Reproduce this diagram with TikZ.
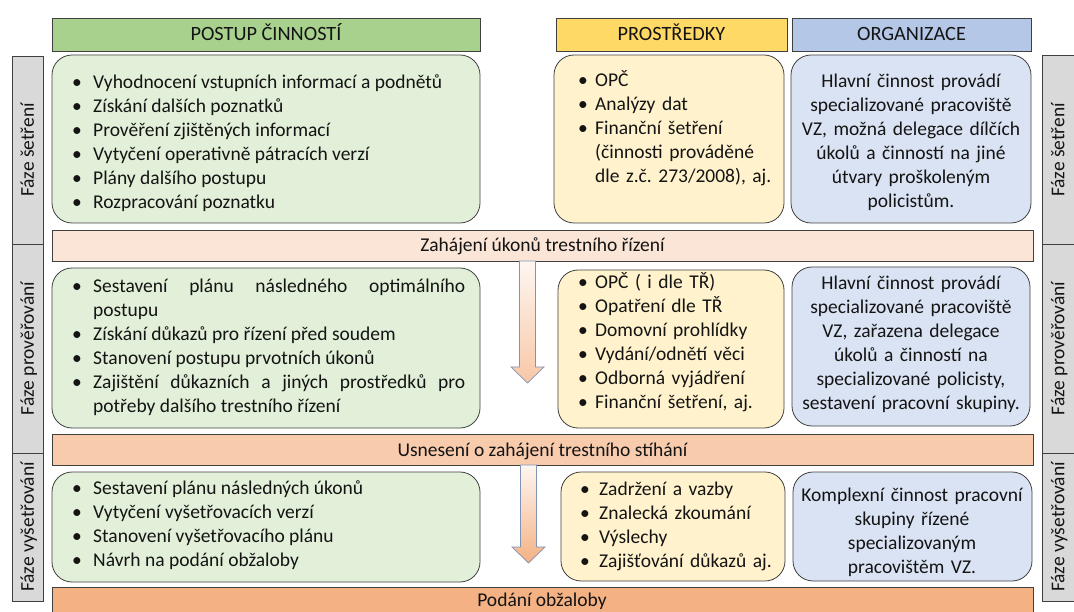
\documentclass[tikz,border=0pt]{standalone}
\usepackage{fontspec}
\setmainfont{Carlito}
\usetikzlibrary{fit}

\definecolor{hgreen}{HTML}{A9D18E}
\definecolor{cgreen}{HTML}{E2F0D9}
\definecolor{hyellow}{HTML}{FFD966}
\definecolor{cyellow}{HTML}{FFF2CC}
\definecolor{hblue}{HTML}{B4C7E7}
\definecolor{cblue}{HTML}{DAE3F3}
\definecolor{phasegray}{HTML}{D9D9D9}
\definecolor{barA}{HTML}{FBE5D6}
\definecolor{barB}{HTML}{F8CBAD}
\definecolor{barC}{HTML}{F4B183}
\definecolor{edge}{HTML}{404040}
\definecolor{ink}{HTML}{141414}
\definecolor{arrowedge}{HTML}{7F93B8}
\definecolor{arrowtop}{HTML}{FEF6F1}

\hyphenpenalty=10000
\exhyphenpenalty=10000
\frenchspacing

\newlength\bulind
\newcommand\bitem[1]{\par\noindent\hangindent=\bulind\hangafter=1\makebox[\bulind][l]{\textbullet}#1}

\tikzset{
  txtfont/.style={font=\fontsize{19.5}{24}\selectfont, text=ink},
  hdr/.style={draw=edge, line width=0.8pt, inner sep=0pt},
  cbox/.style={draw=edge, line width=0.8pt, rounded corners=20pt, inner sep=0pt},
  bar/.style={draw=edge, line width=0.8pt, inner sep=0pt},
  phase/.style={draw=edge, line width=0.8pt, fill=phasegray, inner sep=0pt},
  lbl/.style={txtfont, inner sep=0pt, text height=12.5pt, text depth=0pt},
  hlbl/.style={lbl, font=\fontsize{20.3}{24}\selectfont},
  plbl/.style={lbl, rotate=90},
  glist/.style={txtfont, inner sep=0pt, anchor=west, text width=393pt, align=justify},
  ylist/.style={txtfont, inner sep=0pt, anchor=west, text width=230pt, align=left},
  oblk/.style={txtfont, inner sep=0pt, text width=270pt, align=center},
  blockarrow/.style={draw=arrowedge, line width=0.7pt, top color=arrowtop}
}

\begin{document}
\begin{tikzpicture}[x=1pt, y=-1pt]
\clip (0,0) rectangle (1074,612);
\fill[white] (0,0) rectangle (1074,612);

% phase columns, left and right
\node[phase, fit={(12,56)(43,244)}] (L1) {};
\node[phase, fit={(12,244)(43,453)}] (L2) {};
\node[phase, fit={(12,453)(43,601)}] (L3) {};
\node[phase, fit={(1042,55)(1080,244)}] (R1) {};
\node[phase, fit={(1042,244)(1080,453)}] (R2) {};
\node[phase, fit={(1042,453)(1080,601)}] (R3) {};
\node[plbl] (tL1) at (27.5,150) {Fáze šetření};
\node[plbl] (tL2) at (27.5,348.5) {Fáze prověřování};
\node[plbl] (tL3) at (27.5,527) {Fáze vyšetřování};
\node[plbl] (tR1) at (1058,150) {Fáze šetření};
\node[plbl] (tR2) at (1058,348.5) {Fáze prověřování};
\node[plbl] (tR3) at (1058,527) {Fáze vyšetřování};

% column headers
\node[hdr, fill=hgreen, fit={(52,18)(480,51)}] (hG) {};
\node[hdr, fill=hyellow, fit={(556,18)(787,51)}] (hY) {};
\node[hdr, fill=hblue, fit={(792,18)(1031,51)}] (hB) {};
\node[hlbl] (thG) at (hG.center) {POSTUP ČINNOSTÍ};
\node[hlbl] (thY) at (hY.center) {PROSTŘEDKY};
\node[hlbl] (thB) at (hB.center) {ORGANIZACE};

% milestone bars
\node[bar, fill=barA, fit={(52,230)(1033,261)}] (b1) {};
\node[bar, fill=barB, fit={(52,434.5)(1033,465)}] (b2) {};
\node[bar, fill=barC, fit={(52,587)(1033,625)}] (b3) {};
\node[lbl] (tb1) at (b1.center) {Zahájení úkonů trestního řízení};
\node[lbl] (tb2) at (b2.center) {Usnesení o zahájení trestního stíhání};
\node[lbl] (tb3) at (542,600) {Podání obžaloby};

% flow arrows between the milestones
\shadedraw[blockarrow, bottom color=barB!85!barC]
  (519.5,261) -- (535.5,261) -- (535.5,367) -- (544,367) -- (527.5,383)
  -- (511,367) -- (519.5,367) -- cycle;
\shadedraw[blockarrow, bottom color=barC]
  (520.5,465) -- (536.5,465) -- (536.5,547) -- (545,547) -- (528.5,563)
  -- (512,547) -- (520.5,547) -- cycle;

% row 1: Fáze šetření
\node[cbox, fill=cgreen, fit={(52,55)(480,223)}] (g1) {};
\node[cbox, fill=cyellow, fit={(554,55)(784,223)}] (y1) {};
\node[cbox, fill=cblue, fit={(791,55)(1031,223)}] (o1) {};
\node[glist] (tg1) at (72,138.5) {\setlength\bulind{21pt}%
\bitem{Vyhodnocení vstupních informací a podnětů}
\bitem{Získání dalších poznatků}
\bitem{Prověření zjištěných informací}
\bitem{Vytyčení operativně pátracích verzí}
\bitem{Plány dalšího postupu}
\bitem{Rozpracování poznatku}\par};
\node[ylist] (ty1) at (578,124.5) {\setlength\bulind{17pt}%
\bitem{OPČ}
\bitem{Analýzy dat}
\bitem{Finanční šetření\newline (činnosti prováděné\newline dle z.č. 273/2008), aj.}\par};
\node[oblk] (to1) at (911,142) {Hlavní činnost provádí\\ specializované pracoviště\\ VZ, možná delegace dílčích\\ úkolů a činností na jiné\\ útvary proškoleným\\ policistům.};

% row 2: Fáze prověřování
\node[cbox, fill=cgreen, fit={(52,268)(480,428)}] (g2) {};
\node[cbox, fill=cyellow, fit={(558,270)(784,428)}] (y2) {};
\node[cbox, fill=cblue, fit={(792,267)(1030,426)}] (o2) {};
\node[glist] (tg2) at (72,342.5) {\setlength\bulind{21pt}\tolerance=10000
\bitem{Sestavení plánu následného optimálního\linebreak postupu}
\bitem{Získání důkazů pro řízení před soudem}
\bitem{Stanovení postupu prvotních úkonů}
\bitem{Zajištění důkazních a jiných prostředků pro\linebreak potřeby dalšího trestního řízení}\par};
\node[ylist] (ty2) at (578,338.5) {\setlength\bulind{17pt}%
\bitem{OPČ ( i dle TŘ)}
\bitem{Opatření dle TŘ}
\bitem{Domovní prohlídky}
\bitem{Vydání/odnětí věci}
\bitem{Odborná vyjádření}
\bitem{Finanční šetření, aj.}\par};
\node[oblk] (to2) at (911,344) {Hlavní činnost provádí\\ specializované pracoviště\\ VZ, zařazena delegace\\ úkolů a činností na\\ specializované policisty,\\ sestavení pracovní skupiny.};

% row 3: Fáze vyšetřování
\node[cbox, fill=cgreen, fit={(52,472)(480,582)}] (g3) {};
\node[cbox, fill=cyellow, fit={(561,472)(785,581)}] (y3) {};
\node[cbox, fill=cblue, fit={(793,472)(1032,581)}] (o3) {};
\node[glist] (tg3) at (72,520.5) {\setlength\bulind{21pt}%
\bitem{Sestavení plánu následných úkonů}
\bitem{Vytyčení vyšetřovacích verzí}
\bitem{Stanovení vyšetřovacího plánu}
\bitem{Návrh na podání obžaloby}\par};
\node[ylist] (ty3) at (580,521.5) {\setlength\bulind{19pt}%
\bitem{Zadržení a vazby}
\bitem{Znalecká zkoumání}
\bitem{Výslechy}
\bitem{Zajišťování důkazů aj.}\par};
\node[oblk] (to3) at (912,532.5) {Komplexní činnost pracovní\\ skupiny řízené\\ specializovaným\\ pracovištěm VZ.};
\end{tikzpicture}
\end{document}
